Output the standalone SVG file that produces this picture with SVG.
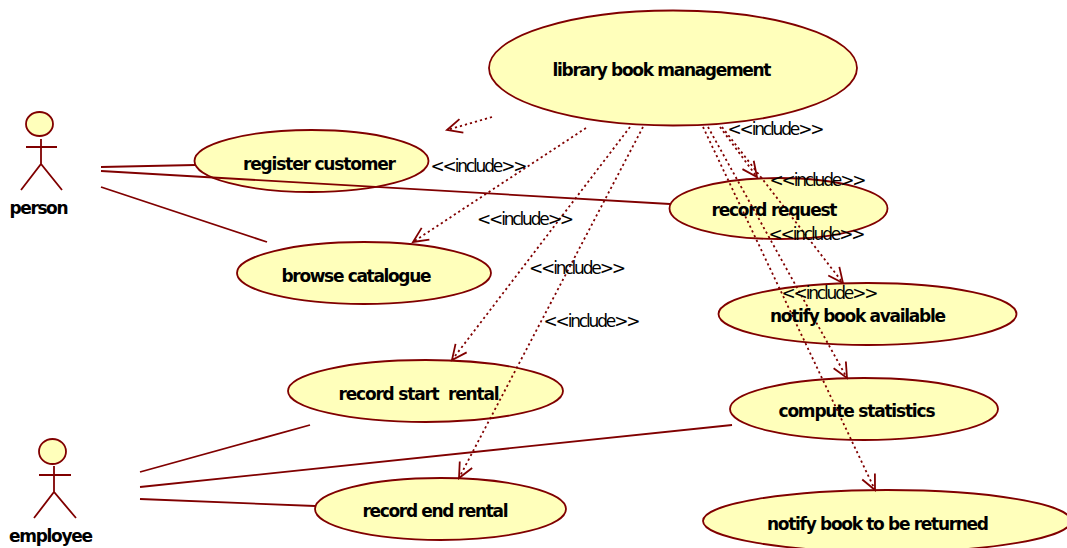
<svg xmlns="http://www.w3.org/2000/svg" width="1067" height="548" viewBox="0 0 1067 548">
<style>
.uc{fill:#ffffbb;stroke:#800000;stroke-width:1.8}
.a{fill:none;stroke:#800000;stroke-width:1.8}
.s{stroke:#800000;stroke-width:1.8;fill:none}
.d{stroke:#800000;stroke-width:1.8;fill:none;stroke-dasharray:2.2 3;marker-end:url(#arr)}
.n{font-family:"DejaVu Sans",sans-serif;font-size:17px;font-weight:bold;fill:#000;text-anchor:middle}
.l{font-family:"DejaVu Sans",sans-serif;font-size:17px;fill:#000;text-anchor:middle}
</style>
<defs>
<marker id="arr" markerUnits="userSpaceOnUse" markerWidth="24" markerHeight="24" refX="17" refY="10" orient="auto" viewBox="0 0 24 20">
<path d="M2 3 L17 10 L2 17" fill="none" stroke="#800000" stroke-width="1.8"/>
</marker>
</defs>
<g id="library"><ellipse class="uc" cx="673" cy="68" rx="184" ry="57.5"/></g>
<g id="register"><ellipse class="uc" cx="311.5" cy="161" rx="117" ry="31"/></g>
<g id="request"><ellipse class="uc" cx="778.500" cy="208.500" rx="109" ry="30.500"/></g>
<g id="browse"><ellipse class="uc" cx="364" cy="273" rx="127" ry="31"/></g>
<g id="available"><ellipse class="uc" cx="867.500" cy="314" rx="149" ry="31"/></g>
<g id="start"><ellipse class="uc" cx="425.500" cy="391" rx="137.500" ry="31"/></g>
<g id="statistics"><ellipse class="uc" cx="864" cy="409" rx="134" ry="31"/></g>
<g id="end"><ellipse class="uc" cx="440.500" cy="509" rx="125.500" ry="31"/></g>
<g id="returned"><ellipse class="uc" cx="887" cy="521" rx="184" ry="31"/></g>
<g id="person">
<ellipse class="uc" cx="39.500" cy="124" rx="13.500" ry="12"/>
<path class="a" d="M41 139V164M26 147H57M21 190L41 164L62 190"/>
<text class="n" x="39" y="213.500" textLength="59">person</text>
</g>
<g id="employee">
<ellipse class="uc" cx="52.500" cy="451.500" rx="13.500" ry="12.500"/>
<path class="a" d="M54 466V492M39 475H71M34 518L54 492L76 518"/>
<text class="n" x="51" y="541.500" textLength="84">employee</text>
</g>
<g id="connectors">
<path class="s" d="M101 167L195 165"/>
<path class="s" d="M101 171L670 204"/>
<path class="s" d="M101 187L267 242"/>
<path class="s" d="M140 472L310 425"/>
<path class="s" d="M140 487L732 425"/>
<path class="s" d="M140 499L315 506"/>
<path class="d" d="M492 117L447 130"/>
<path class="d" d="M586 128L413 242"/>
<path class="d" d="M630 127L452 360"/>
<path class="d" d="M643 127L459 478"/>
<path class="d" d="M720 127L757 177"/>
<path class="d" d="M722 127L843 283"/>
<path class="d" d="M708 127L847 378"/>
<path class="d" d="M703 127L875 490"/>
</g>
<g id="node-labels">
<text class="n" x="662" y="76" textLength="219">library book management</text>
<text class="n" x="319.500" y="169.500" textLength="153">register customer</text>
<text class="n" x="774.500" y="215.500" textLength="126">record request</text>
<text class="n" x="356.500" y="281.500" textLength="150">browse catalogue</text>
<text class="n" x="858" y="322" textLength="176">notify book available</text>
<text class="n" x="419" y="399.500" textLength="161" xml:space="preserve">record start  rental</text>
<text class="n" x="857" y="417" textLength="157">compute statistics</text>
<text class="n" x="435.500" y="517" textLength="146">record end rental</text>
<text class="n" x="878" y="529.500" textLength="222">notify book to be returned</text>
</g>
<g id="include-labels">
<text class="l" x="479" y="172" textLength="97">&lt;&lt;include&gt;&gt;</text>
<text class="l" x="525.500" y="225" textLength="97">&lt;&lt;include&gt;&gt;</text>
<text class="l" x="577.500" y="274" textLength="97">&lt;&lt;include&gt;&gt;</text>
<text class="l" x="592" y="327" textLength="97">&lt;&lt;include&gt;&gt;</text>
<text class="l" x="776" y="135" textLength="97">&lt;&lt;include&gt;&gt;</text>
<text class="l" x="818" y="186" textLength="97">&lt;&lt;include&gt;&gt;</text>
<text class="l" x="817" y="240" textLength="97">&lt;&lt;include&gt;&gt;</text>
<text class="l" x="830" y="299" textLength="97">&lt;&lt;include&gt;&gt;</text>
</g>
</svg>
